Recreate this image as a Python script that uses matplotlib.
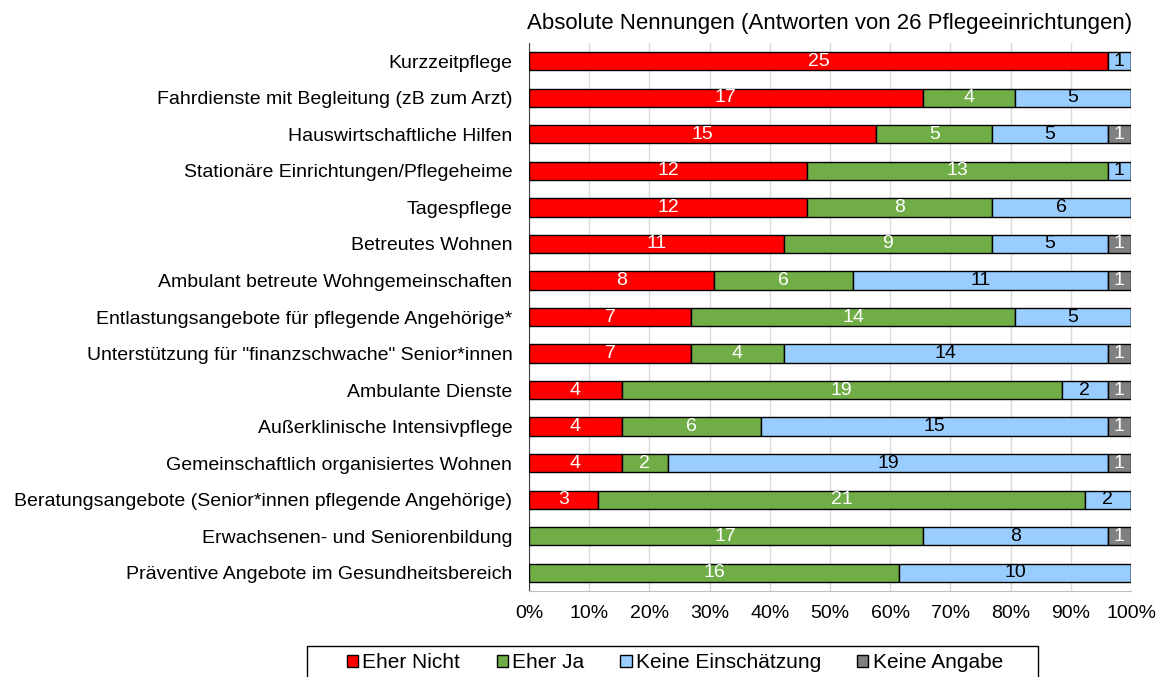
import numpy as np
import matplotlib.pyplot as plt
from matplotlib.patches import Patch, Rectangle

categories = [
    "Kurzzeitpflege",
    "Fahrdienste mit Begleitung (zB zum Arzt)",
    "Hauswirtschaftliche Hilfen",
    "Stationäre Einrichtungen/Pflegeheime",
    "Tagespflege",
    "Betreutes Wohnen",
    "Ambulant betreute Wohngemeinschaften",
    "Entlastungsangebote für pflegende Angehörige*",
    "Unterstützung für \"finanzschwache\" Senior*innen",
    "Ambulante Dienste",
    "Außerklinische Intensivpflege",
    "Gemeinschaftlich organisiertes Wohnen",
    "Beratungsangebote (Senior*innen pflegende Angehörige)",
    "Erwachsenen- und Seniorenbildung",
    "Präventive Angebote im Gesundheitsbereich",
]
eher_nicht = [25, 17, 15, 12, 12, 11, 8, 7, 7, 4, 4, 4, 3, 0, 0]
eher_ja = [0, 4, 5, 13, 8, 9, 6, 14, 4, 19, 6, 2, 21, 17, 16]
keine_einschaetzung = [1, 5, 5, 1, 6, 5, 11, 5, 14, 2, 15, 19, 2, 8, 10]
keine_angabe = [0, 0, 1, 0, 0, 1, 1, 0, 1, 1, 1, 1, 0, 1, 0]

series = [
    ("Eher Nicht", eher_nicht, "#FF0000", "white"),
    ("Eher Ja", eher_ja, "#70AD47", "white"),
    ("Keine Einschätzung", keine_einschaetzung, "#99CCFF", "black"),
    ("Keine Angabe", keine_angabe, "#808080", "white"),
]

plt.rcParams['font.family'] = ['Liberation Sans', 'DejaVu Sans']

W, H = 1157, 677
fig = plt.figure(figsize=(W / 100, H / 100), dpi=100)
ax = fig.add_axes([529 / W, 1 - 591 / H, 602 / W, 548 / H])

y = np.arange(len(categories))
totals = np.sum([np.array(s[1]) for s in series], axis=0)
left = np.zeros(len(categories))
for name, vals, color, tcolor in series:
    vals = np.array(vals, dtype=float)
    w = vals / totals
    ax.barh(y, w, left=left, height=0.5, color=color, edgecolor="black",
            linewidth=1, label=name, zorder=3)
    for i, v in enumerate(vals):
        if v > 0:
            ax.text(left[i] + w[i] / 2, y[i], str(int(v)), ha="center",
                    va="center", color=tcolor, fontsize=14, zorder=4)
    left += w

ax.set_ylim(len(categories) - 0.5, -0.5)
ax.set_xlim(0, 1)
ax.set_yticks(y)
ax.set_yticklabels(categories, fontsize=14)
ax.set_xticks(np.linspace(0, 1, 11))
ax.set_xticklabels([f"{int(t)}%" for t in np.linspace(0, 100, 11)], fontsize=14)
ax.tick_params(axis="y", length=0, pad=12)
ax.tick_params(axis="x", length=0, pad=10)
ax.grid(axis="x", color="#D9D9D9", linewidth=1, zorder=0)
for s in ["top", "right"]:
    ax.spines[s].set_visible(False)
ax.spines["left"].set_color("#404040")
ax.spines["bottom"].set_color("#BFBFBF")
ax.set_title("Absolute Nennungen (Antworten von 26 Pflegeeinrichtungen)",
             fontsize=16, pad=10)

# legend (frame drawn separately, it runs off the bottom edge like the original)
handles = [Patch(facecolor=c, edgecolor="black", label=n) for n, _, c, _ in series]
fig.legend(handles=handles, loc="center", ncol=4,
           bbox_to_anchor=(675 / W, 1 - 663 / H), fontsize=15,
           frameon=False, handlelength=0.53, handleheight=0.53,
           handletextpad=0.2, columnspacing=1.75, borderpad=0, borderaxespad=0)
fig.patches.append(Rectangle((307 / W, -0.05), (1038 - 307) / W, 0.05 + (H - 646) / H,
                             transform=fig.transFigure, fill=False,
                             edgecolor="black", linewidth=1))

fig.savefig("out.png", dpi=100)
